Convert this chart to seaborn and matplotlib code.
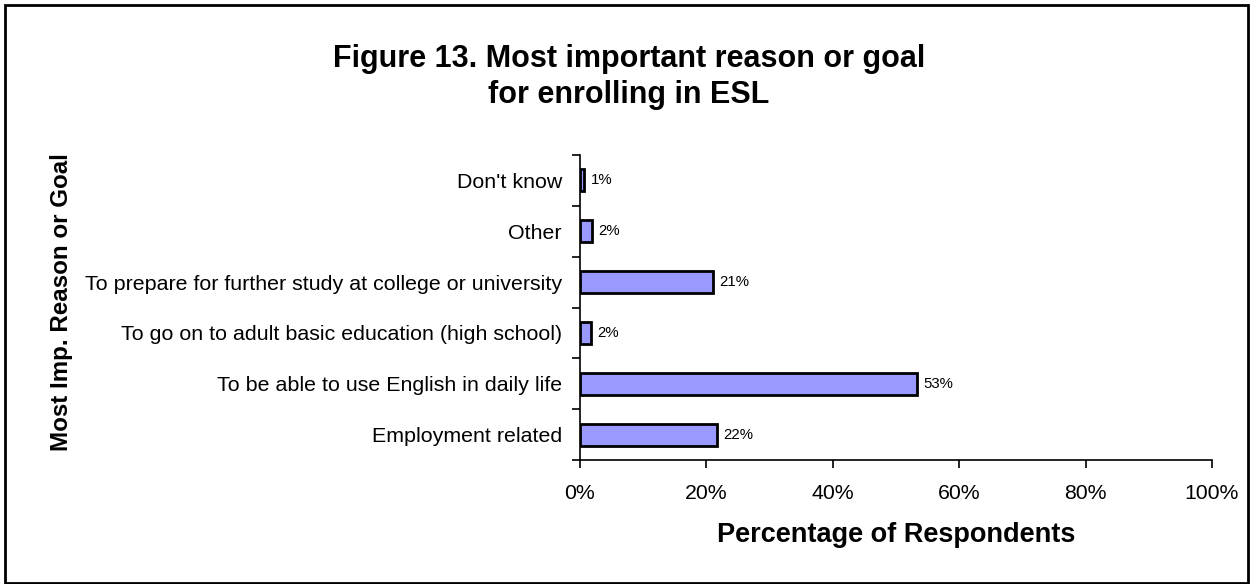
import matplotlib
matplotlib.use("Agg")
import matplotlib.pyplot as plt
from matplotlib.patches import Rectangle
from matplotlib.ticker import FixedLocator, PercentFormatter
import seaborn as sns
import pandas as pd

# Survey results: most important reason or goal for enrolling in ESL
reasons = [
    "Don't know",
    "Other",
    "To prepare for further study at college or university",
    "To go on to adult basic education (high school)",
    "To be able to use English in daily life",
    "Employment related",
]
percent = [0.7, 1.9, 21.1, 1.7, 53.3, 21.7]
x_ticks = [0, 20, 40, 60, 80, 100]

title_lines = ["Figure 13. Most important reason or goal", "for enrolling in ESL"]
x_label = "Percentage of Respondents"
y_label = "Most Imp. Reason or Goal"

df = pd.DataFrame({"reason": reasons, "percent": percent})

sns.set_theme(style="white")
plt.rcParams["font.family"] = ["Liberation Sans", "DejaVu Sans"]
plt.rcParams["text.color"] = "black"
plt.rcParams["axes.labelcolor"] = "black"

fig = plt.figure(figsize=(12.54, 5.84), dpi=100)
ax = fig.add_axes([0.4625, 0.2123, 0.5040, 0.5223])

sns.barplot(data=df, x="percent", y="reason", orient="h", order=reasons,
            color="#9999FF", saturation=1, edgecolor="black", linewidth=2,
            width=0.43, ax=ax)

ax.set_xlim(0, 100)
ax.set_ylim(len(reasons) - 0.5, -0.5)
ax.xaxis.set_major_locator(FixedLocator(x_ticks))
ax.xaxis.set_major_formatter(PercentFormatter(100, decimals=0))
ax.tick_params(axis="x", which="major", direction="out", length=6, width=1.2,
               colors="black", labelsize=15.3, pad=11, bottom=True)
ax.tick_params(axis="y", which="major", length=0, labelsize=15.4, pad=13,
               labelcolor="black")
ax.yaxis.set_minor_locator(FixedLocator([i - 0.5 for i in range(len(reasons) + 1)]))
ax.tick_params(axis="y", which="minor", direction="out", length=6, width=1.2,
               colors="black", left=True)

for side in ("top", "right"):
    ax.spines[side].set_visible(False)
for side in ("left", "bottom"):
    ax.spines[side].set_color("black")
    ax.spines[side].set_linewidth(1.2)

for i, v in enumerate(percent):
    ax.text(v + 1.0, i, f"{v:.0f}%", va="center", ha="left", fontsize=10.8,
            color="black")

ax.set_xlabel(x_label, fontsize=19.5, fontweight="bold", labelpad=14,
              color="black")
ax.set_ylabel("")
fig.text(0.0494, 0.483, y_label, rotation=90, ha="center", va="center",
         fontsize=17.4, fontweight="bold", color="black")

# Two-line title, each line placed on its own baseline
for line, y in zip(title_lines, [0.8853, 0.8236]):
    fig.text(0.5016, y, line, ha="center", va="baseline", fontsize=22,
             fontweight="bold", color="black")

fig.patches.append(Rectangle((5 / 1254, 0.002), 1243 / 1254, 0.989,
                             transform=fig.transFigure, fill=False,
                             edgecolor="black", linewidth=2))

fig.savefig("out.png", dpi=100, facecolor="white")
